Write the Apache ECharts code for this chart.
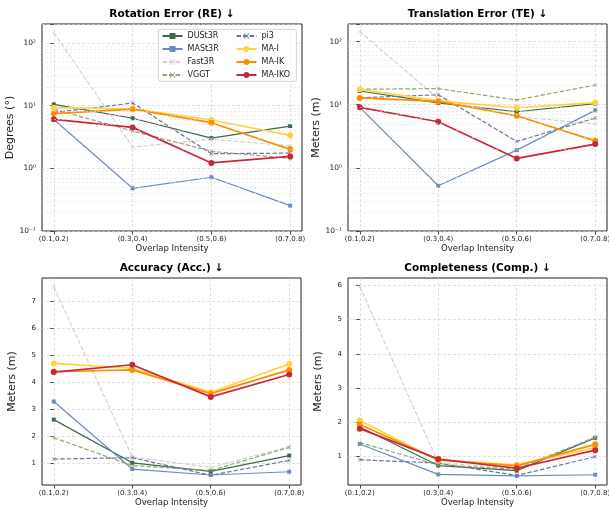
<!DOCTYPE html>
<html>
<head>
<meta charset="utf-8">
<title>Overlap Intensity</title>
<script src="https://cdn.jsdelivr.net/npm/echarts@6.0.0/dist/echarts.min.js"></script>
<style>
    html, body { margin: 0; padding: 0; background: #fff; }
    #main { width: 609px; height: 510px; }
</style>
</head>
<body>
<div id="main"></div>
<script>
// categories and tick labels
var categories = ['(0.1,0.2)', '(0.3,0.4)', '(0.5,0.6)', '(0.7,0.8)'];
var catTicks = [0, 1, 2, 3];
var logMinor = [0.2, 0.3, 0.4, 0.5, 0.6, 0.7, 0.8, 0.9, 2, 3, 4, 5, 6, 7, 8, 9, 20, 30, 40, 50, 60, 70, 80, 90];
var accTicks = [1, 2, 3, 4, 5, 6, 7];
var compTicks = [1, 2, 3, 4, 5, 6];

// Rotation Error (degrees)
var reDUSt3R = [10.5, 6.3, 3.04, 4.73];
var reMASt3R = [6.0, 0.48, 0.72, 0.254];
var reFast3R = [146, 2.19, 2.9, 2.3];
var reVGGT   = [8.8, 3.94, 1.87, 1.44];
var rePi3    = [7.8, 11.0, 1.71, 1.75];
var reMAI    = [9.3, 8.9, 5.9, 3.36];
var reMAIK   = [7.45, 8.8, 5.35, 2.01];
var reMAIKO  = [6.05, 4.5, 1.22, 1.55];

// Translation Error (m)
var teDUSt3R = [16.5, 10.7, 7.74, 10.4];
var teMASt3R = [9.1, 0.52, 1.91, 8.15];
var teFast3R = [144, 12.5, 6.45, 4.99];
var teVGGT   = [17.6, 18.0, 11.9, 20.5];
var tePi3    = [12.9, 14.4, 2.62, 6.15];
var teMAI    = [17.6, 11.5, 8.96, 10.8];
var teMAIK   = [12.8, 11.3, 6.69, 2.68];
var teMAIKO  = [9.1, 5.37, 1.41, 2.38];

// Accuracy (m)
var accDUSt3R = [2.63, 1.03, 0.715, 1.30];
var accMASt3R = [3.30, 0.80, 0.58, 0.70];
var accFast3R = [7.54, 1.25, 0.86, 1.63];
var accVGGT   = [1.96, 0.93, 0.75, 1.60];
var accPi3    = [1.17, 1.22, 0.57, 1.12];
var accMAI    = [4.71, 4.53, 3.64, 4.69];
var accMAIK   = [4.40, 4.47, 3.59, 4.47];
var accMAIKO  = [4.39, 4.66, 3.47, 4.30];

// Completeness (m)
var compDUSt3R = [1.86, 0.73, 0.58, 1.54];
var compMASt3R = [1.36, 0.47, 0.43, 0.46];
var compFast3R = [5.97, 0.81, 0.65, 1.56];
var compVGGT   = [1.40, 0.75, 0.62, 1.56];
var compPi3    = [0.90, 0.80, 0.44, 0.99];
var compMAI    = [2.05, 0.88, 0.75, 1.25];
var compMAIK   = [1.93, 0.90, 0.72, 1.35];
var compMAIKO  = [1.81, 0.92, 0.65, 1.18];

var FONT = 'DejaVu Sans';
var crossPath = 'path://M0,1L1,0L5,4L9,0L10,1L6,5L10,9L9,10L5,6L1,10L0,9L4,5Z';

var styles = {
    'DUSt3R': { color: '#3b6a47', dash: 'solid', symbol: 'rect', size: 4, width: 1.2 },
    'MASt3R': { color: '#6b8dbc', dash: 'solid', symbol: 'rect', size: 4, width: 1.2 },
    'Fast3R': { color: '#d2d2d2', dash: [4.5, 2], symbol: crossPath, size: 4, width: 1.2 },
    'VGGT':   { color: '#90a86c', dash: [4.5, 2], symbol: crossPath, size: 4, width: 1.2 },
    'pi3':    { color: '#6f7399', dash: [4.5, 2], symbol: crossPath, size: 4, width: 1.2 },
    'MA-I':   { color: '#ffd43b', dash: 'solid', symbol: 'circle', size: 6, width: 1.7 },
    'MA-IK':  { color: '#ff8c00', dash: 'solid', symbol: 'circle', size: 6, width: 1.7 },
    'MA-IKO': { color: '#c8283c', dash: 'solid', symbol: 'circle', size: 6, width: 1.7 }
};

var panels = [
    { title: 'Rotation Error (RE) ↓', yName: 'Degrees (°)', log: true, min: 0.1, max: 201,
      data: [reDUSt3R, reMASt3R, reFast3R, reVGGT, rePi3, reMAI, reMAIK, reMAIKO] },
    { title: 'Translation Error (TE) ↓', yName: 'Meters (m)', log: true, min: 0.1, max: 190,
      data: [teDUSt3R, teMASt3R, teFast3R, teVGGT, tePi3, teMAI, teMAIK, teMAIKO] },
    { title: 'Accuracy (Acc.) ↓', yName: 'Meters (m)', log: false, min: 0.21, max: 7.87, ticks: accTicks,
      data: [accDUSt3R, accMASt3R, accFast3R, accVGGT, accPi3, accMAI, accMAIK, accMAIKO] },
    { title: 'Completeness (Comp.) ↓', yName: 'Meters (m)', log: false, min: 0.16, max: 6.22, ticks: compTicks,
      data: [compDUSt3R, compMASt3R, compFast3R, compVGGT, compPi3, compMAI, compMAIK, compMAIKO] }
];
var methods = ['DUSt3R', 'MASt3R', 'Fast3R', 'VGGT', 'pi3', 'MA-I', 'MA-IK', 'MA-IKO'];
var legendCol1 = ['DUSt3R', 'MASt3R', 'Fast3R', 'VGGT'];
var legendCol2 = ['pi3', 'MA-I', 'MA-IK', 'MA-IKO'];

var gridPos = [
    { left: 42, top: 24, width: 260, height: 207 },
    { left: 348, top: 24, width: 259, height: 207 },
    { left: 42, top: 278, width: 259, height: 207 },
    { left: 348, top: 278, width: 259, height: 207 }
];

var supMap = { '-': '⁻', '0': '⁰', '1': '¹', '2': '²', '3': '³' };
function logLabel(v) {
    var e = Math.log10(v);
    var r = Math.round(e);
    if (Math.abs(e - r) > 1e-6) return '';
    return '10' + String(r).split('').map(function (c) { return supMap[c]; }).join('');
}

var grids = [], xAxes = [], yAxes = [], series = [], titles = [];

panels.forEach(function (p, gi) {
    var g = gridPos[gi];
    grids.push({ left: g.left, top: g.top, width: g.width, height: g.height,
        show: true, borderColor: '#222', borderWidth: 1, backgroundColor: 'transparent',
        outerBoundsMode: 'none', containLabel: false });

    titles.push({ text: p.title, left: g.left + g.width / 2, top: g.top - 15.5, textAlign: 'center', padding: 0,
        textStyle: { fontFamily: FONT, fontSize: 10.5, fontWeight: 'bold', color: '#000' } });

    xAxes.push({
        gridIndex: gi, type: 'value', min: -0.15, max: 3.15,
        name: 'Overlap Intensity', nameLocation: 'middle', nameGap: 13,
        nameTextStyle: { fontFamily: FONT, fontSize: 8.5, color: '#222', verticalAlign: 'top' },
        axisLine: { show: false },
        axisTick: { show: true, length: 3.5, customValues: catTicks, lineStyle: { color: '#222', width: 0.8 } },
        axisLabel: { customValues: catTicks, margin: 5, fontFamily: FONT, fontSize: 7, color: '#222',
            formatter: function (v) { return categories[Math.round(v)]; } },
        splitLine: { show: true, lineStyle: { color: '#d4d4d4', type: [3, 2], width: 0.7 } }
    });

    var y = {
        gridIndex: gi, type: p.log ? 'log' : 'value', min: p.min, max: p.max,
        name: p.yName, nameLocation: 'middle', nameGap: 24, nameRotate: 90,
        nameTextStyle: { fontFamily: FONT, fontSize: 11, color: '#222' },
        axisLine: { show: false },
        axisTick: { show: true, length: 3.5, lineStyle: { color: '#222', width: 0.8 } },
        axisLabel: { margin: 6, fontFamily: FONT, fontSize: 7, color: '#222' },
        splitLine: { show: true, lineStyle: { color: '#d4d4d4', type: [3, 2], width: 0.7 } }
    };
    if (p.log) {
        y.logBase = 10;
        y.axisLabel.formatter = logLabel;
        y.axisLabel.fontSize = 7.5;
    } else {
        y.axisTick.customValues = p.ticks;
        y.axisLabel.customValues = p.ticks;
    }
    yAxes.push(y);

    if (p.log) {
        series.push({
            name: 'minor-grid-' + gi, type: 'line', xAxisIndex: gi, yAxisIndex: gi, data: [],
            silent: true,
            markLine: {
                silent: true, symbol: 'none', label: { show: false },
                lineStyle: { color: '#e2e2e2', type: [2, 2], width: 0.6 },
                data: logMinor.map(function (v) { return { yAxis: v }; }),
                animation: false
            }
        });
    }

    methods.forEach(function (m, k) {
        var s = styles[m];
        series.push({
            name: m, type: 'line', xAxisIndex: gi, yAxisIndex: gi,
            data: p.data[k].map(function (v, i) { return [i, v]; }),
            symbol: s.symbol, symbolSize: s.size, showSymbol: true,
            lineStyle: { color: s.color, width: s.width, type: s.dash },
            itemStyle: { color: s.color, borderWidth: 0 },
            emphasis: { disabled: true },
            animation: false
        });
    });
});

function legendColumn(names, left) {
    return {
        data: names, orient: 'vertical', left: left, top: 32,
        padding: 0, itemGap: 5, itemWidth: 20, itemHeight: 7.5,
        selectedMode: false, z: 60,
        textStyle: { fontFamily: FONT, fontSize: 8, color: '#222', lineHeight: 8 }
    };
}

var chart = echarts.init(document.getElementById('main'), null, { renderer: 'canvas' });
chart.setOption({
    backgroundColor: '#fff',
    animation: false,
    title: titles,
    grid: grids,
    xAxis: xAxes,
    yAxis: yAxes,
    legend: [legendColumn(legendCol1, 161.5), legendColumn(legendCol2, 235.5)],
    graphic: [{
        type: 'rect', left: 158, top: 29, z: 50,
        shape: { width: 138, height: 52, r: 2 },
        style: { fill: 'rgba(255,255,255,0.8)', stroke: '#cccccc', lineWidth: 0.8 }
    }],
    series: series
});
</script>
</body>
</html>
